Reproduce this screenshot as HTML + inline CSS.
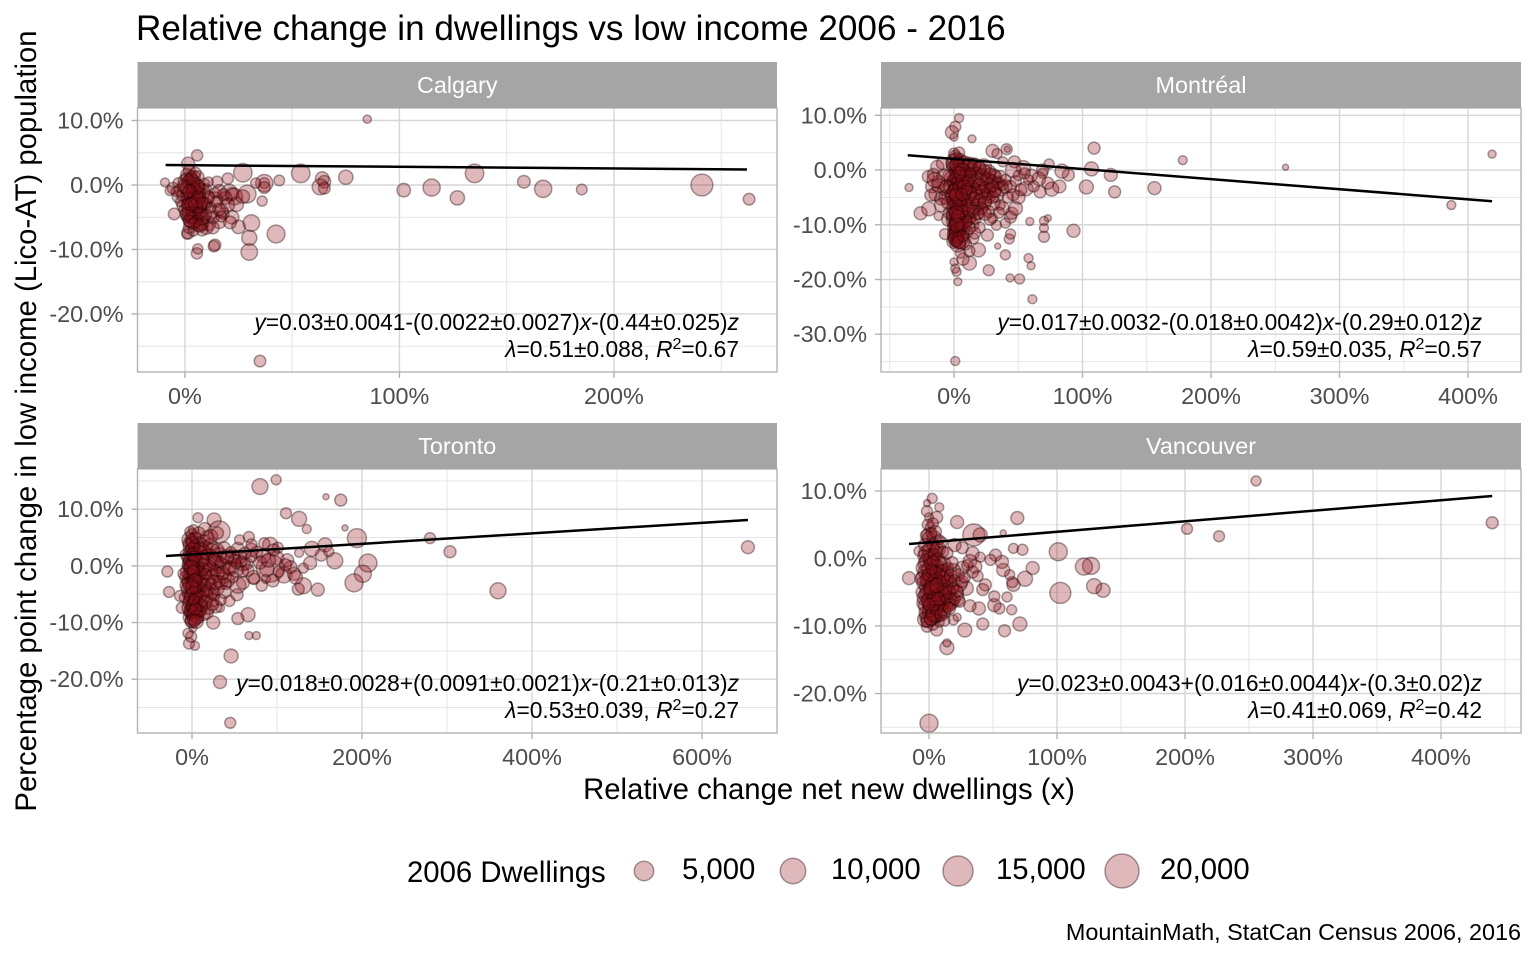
<!DOCTYPE html>
<html lang="en">
<head>
<meta charset="utf-8">
<title>Relative change in dwellings vs low income 2006 - 2016</title>
<style>
html,body{margin:0;padding:0;background:#fff;}
svg{display:block;font-family:"Liberation Sans",Arial,sans-serif;}
</style>
</head>
<body>
<svg id="chart" width="1536" height="960" viewBox="0 0 1536 960" xmlns="http://www.w3.org/2000/svg">
  <rect width="1536" height="960" fill="#fff"/>
  <text x="136" y="40" font-size="35.1" fill="#000">Relative change in dwellings vs low income 2006 - 2016</text>
  <g id="panels"></g>
  <text transform="translate(36,421) rotate(-90)" text-anchor="middle" font-size="29.3" fill="#000">Percentage point change in low income (Lico-AT) population</text>
  <text x="829" y="799" text-anchor="middle" font-size="29.3" fill="#000">Relative change net new dwellings (x)</text>
  <g id="legend">
    <text x="407" y="882" font-size="29.3" fill="#000">2006 Dwellings</text>
  </g>
  <text x="1521" y="940" text-anchor="end" font-size="23.4" fill="#000">MountainMath, StatCan Census 2006, 2016</text>

  <g font-size="22.75" fill="#000" text-anchor="end">
    <text x="739" y="330"><tspan font-style="italic">y</tspan>=0.03±0.0041-(0.0022±0.0027)<tspan font-style="italic">x</tspan>-(0.44±0.025)<tspan font-style="italic">z</tspan></text>
    <text x="739" y="357"><tspan font-style="italic">λ</tspan>=0.51±0.088, <tspan font-style="italic">R</tspan><tspan font-size="16" dy="-8">2</tspan><tspan dy="8">=0.67</tspan></text>
  </g>
  <g font-size="22.75" fill="#000" text-anchor="end">
    <text x="1482" y="330"><tspan font-style="italic">y</tspan>=0.017±0.0032-(0.018±0.0042)<tspan font-style="italic">x</tspan>-(0.29±0.012)<tspan font-style="italic">z</tspan></text>
    <text x="1482" y="357"><tspan font-style="italic">λ</tspan>=0.59±0.035, <tspan font-style="italic">R</tspan><tspan font-size="16" dy="-8">2</tspan><tspan dy="8">=0.57</tspan></text>
  </g>
  <g font-size="22.75" fill="#000" text-anchor="end">
    <text x="739" y="691"><tspan font-style="italic">y</tspan>=0.018±0.0028+(0.0091±0.0021)<tspan font-style="italic">x</tspan>-(0.21±0.013)<tspan font-style="italic">z</tspan></text>
    <text x="739" y="718"><tspan font-style="italic">λ</tspan>=0.53±0.039, <tspan font-style="italic">R</tspan><tspan font-size="16" dy="-8">2</tspan><tspan dy="8">=0.27</tspan></text>
  </g>
  <g font-size="22.75" fill="#000" text-anchor="end">
    <text x="1482" y="691"><tspan font-style="italic">y</tspan>=0.023±0.0043+(0.016±0.0044)<tspan font-style="italic">x</tspan>-(0.3±0.02)<tspan font-style="italic">z</tspan></text>
    <text x="1482" y="718"><tspan font-style="italic">λ</tspan>=0.41±0.069, <tspan font-style="italic">R</tspan><tspan font-size="16" dy="-8">2</tspan><tspan dy="8">=0.42</tspan></text>
  </g>
</svg>
<script>
var calgaryX = [
85,35,263,241,185,167,158,135,127,115,
102,75,64,65,63,65,54,44,37,37,
37,33,27,29,36,42.5,31,30,30,25,
14,13.5,5.6,6,1.5,1,-5,-9.3,-5.5,-7,
5.7,1.5,15,20,20.7,22,23,22,16,18,
2,4,6,3,5,7,1,8,10,4,
2,6,3,9,5,12,7,1,11,4,
14,17,19,24,27,13,16,21,10,-3,
-3,-2,-4,-1,0,1,2,3,-2,-1,
0,1,2,3,4,5,6,7,8,9,
0,1,2,3,4,5,6,7,8,9,
10,11,12,13,14,15,16,17,18,20,
2,4,6,8,1,3,5,7,9,11,
1,2,3,4,5,6,7,8,3,5,
2,4,6,1,3,5,7,2,4,6,
3,5,1,2,4,6,8,10,3,7];
var calgaryY = [
10.2,-27.3,-2.2,0,-0.7,-0.6,0.5,1.8,-2,-0.4,
-0.8,1.2,1,0.5,-0.3,-0.5,1.8,0.7,0.3,0.3,
-0.4,0.3,1.9,-1.4,-2.5,-7.6,-5.9,-8.2,-10.4,-6.5,
-9.3,-9.5,-10.6,-9.9,-7.4,-7.6,-4.5,0.4,-0.5,-0.9,
4.6,3.3,0.5,1,-1.2,-1.4,-1.8,-5,-5.7,-4.4,
0.4,-0.6,-2,-1.6,-3.8,-3,-4.6,-1,-2,-5,
-3.4,-0.2,-5.4,-3,-1.2,-4.4,-5.8,1,-6,1.2,
-2.2,-4,-2,-3,-1.8,-5,-1,-5.8,-6.6,-1.8,
0.3,-0.8,-1,-1.6,0.6,1.6,2.2,1.4,-2.6,-3.2,
-0.2,-1.2,-2.4,0.1,-3.3,-0.9,1.2,-2,-4.2,0.2,
-3.8,-5,-4.4,-5.8,-1.8,-4.9,-5.4,-0.5,-6.1,-2.9,
-0.6,-1.9,-3.5,-6.6,-1.2,-2.6,-3.8,-4.9,-1.5,-3.1,
-6.6,-7.1,-6.2,-7,-0.4,-2.2,0.4,-3.4,-5.1,0.5,
-2,-3,-1,-0.3,-2.8,-3.6,-1.4,-5.2,-4.3,-5.7,
0.9,0.7,-0.2,-3,-5.1,-3.2,-4.4,-1,-2.6,-1.7,
1,1.9,-4.4,-5.6,-6,-2.4,-2.8,-4.6,-3,-6.4];
var calgaryD = [
3000,6000,6000,21000,5000,13000,7000,15000,9000,13000,
8000,9000,8000,7000,11000,6000,15000,5000,5000,13000,
6000,4500,15000,14000,4500,14000,12000,10000,12000,8000,
6000,5500,5500,4500,7000,4500,6000,3500,6000,4000,
5500,7500,5500,5500,12000,7500,12000,8000,8000,5500,
9000,11000,8000,10000,12000,9000,8000,10000,11000,9000,
10000,8000,11000,9000,12000,8000,10000,7000,9000,8000,
9000,8000,7000,9000,8000,7000,8000,7000,8000,7000,
5000,7000,4500,6000,8000,7000,6000,5000,4500,6000,
9000,5000,7000,6000,8000,5000,7000,6000,4500,5000,
6000,5000,8000,7000,6000,9000,5000,4500,7000,6000,
4500,6000,5000,7000,4500,6000,7000,5000,6000,8000,
6000,5000,7000,6000,8000,5000,4500,7000,6000,4000,
6000,7000,5000,6000,8000,5000,6000,7000,5000,6000,
5000,6000,7000,5000,6000,8000,5000,7000,6000,5000,
6000,5000,7000,6000,5000,8000,6000,5000,7000,6000];
var calgaryLineX = [-9, 262];
var calgaryLineY = [3.1, 2.4];
var calgaryXTicks = [0, 100, 200];
var calgaryYTicks = [10, 0, -10, -20];
var calgaryXMinor = [50, 150, 250];
var calgaryYMinor = [5, -5, -15, -25];

var montrealX = [
418.7,387,258,178,156,109,122,125,107,103,
93,82,76,67,73,74,89,84,69,69,
73,70,70,70,59,61,58,60,51,43.6,
40,34,27,43,44,26,44,45,40,33,
30,-35,-26,-19.6,-12,-7,1,4,1,-1.6,
0,14,30,33.5,41,41.5,47,38,3,2,
1,0,12,7,19,12,5,9,15,10,
-20,-17,-14,-10,-16,-12,-8,-18,-13,-9,
50,56,60,66,54,46,48,38,-4,-3,
15,19,23,27,31,-8,-12,-15,-6,-10,
0,2,4,6,-2,1,3,5,7,0,
2,4,6,8,1,3,5,0,2,4,
1,3,5,2,4,0,3,6,1,2,
10,13,16,19,22,25,28,31,34,37,
9,12,15,18,21,24,27,30,33,40,
9,12,15,18,21,8,11,14,9,12,
0,1,2,3,4,-1,0,1,2,3,
4,5,6,-2,-1,0,1,2,3,4,
5,6,7,-1,0,1,2,3,4,5,
6,-1,0,1,2,3,4,0,1,2,
3,4,5,6,0,1,2,3,4,7,
8,10,12,14,16,18,20,22,24,26,
28,30,32,34,36,38,40,8,10,12,
14,16,18,20,22,24,26,28,30,32,
8,10,12,14,16,18,20,22,24,27,
7,9,11,13,15,17,19,8,10,12,
44,48,50,52,55,58,62,46,42,36,
35,28,24,20,16,30,-4,-6,-3,-5,
2,3,1,2,0,4,2,1,3,2,
5,7,9,6,8,10,4,11,13,6];
var montrealY = [
2.9,-6.4,0.5,1.8,-3.3,4,-0.9,-4,0.2,-3.1,
-11.1,-3,-3.5,-4,-2.4,1.1,-0.9,-0.2,0,-0.6,
-8.8,-9.3,-10.6,-12.2,-9.4,-23.6,-16.1,-17.5,-19.9,-19.7,
-15.5,-13.9,-18.3,-12.6,-11.7,-11.9,-8.6,-7.9,-9.7,-10.1,
-8.8,-3.2,-7.9,-7.1,-8.4,-11.7,-34.9,9.5,7.9,6.9,
6,5.7,3.5,3,3.8,3.8,1.5,1.5,-20.4,-18.6,
-18,-16.8,-17,-16.3,-14.6,-14.8,-15.2,-13.5,-12.5,-11.3,
-1.2,-3,-4.4,-5.2,-0.8,-2.2,-3.6,-4.6,0.6,1.2,
-5,-3.4,-1,-1.6,0.4,0,-7,-7,-9,-7.8,
0.8,0.2,0.6,-0.4,-1.2,-1.2,-2.8,-1.8,-5,-6.4,
1.5,0.5,-0.5,1.2,-3,-1.8,-3.4,-2.2,-4.2,-4.5,
-5.6,-6.6,-5.2,-6.2,-7.4,-8,-9.4,-9.2,-10.2,-10,
-11.6,-11,-11.8,-12.4,-12.6,-13,-13.6,-13,-6.8,-3,
-0.8,-2.2,-1,-3,-1.6,-2.6,-2,-3.6,-2.4,-3.4,
-3.4,-4.6,-3.6,-5,-4,-5.4,-4.8,-6,-4.6,-3,
-6.4,-7.6,-6.6,-7.8,-7,-9.4,-8.8,-10,-1,1,
3,2.5,2,1.5,3.2,1,0.5,0,-0.5,-1,
1,2,0.2,-1.5,-2,-2.5,-3,-3.5,-4,-1.8,
-4.5,-3,-1.2,-5,-5.5,-6,-6.5,-7,-5.6,-7.6,
-6,-8,-8.5,-9,-9.5,-9.5,-8.6,-10.5,-11,-11.5,
-10.6,-11.4,-9.8,-10.2,-12,-12.6,-13,-12.4,-13.2,-12,
1.5,0.6,1.2,0.2,1,-0.4,0.4,-1,0,-1.6,
-0.6,-2,-1,-2.4,-1.2,-2.8,-1.8,-1.5,-2.5,-1.2,
-3,-2,-3.6,-2.6,-4,-3.2,-4.4,-3.4,-5,-4,
-4.5,-5.5,-4.2,-6,-5,-6.5,-5.6,-7,-6,-7.6,
-7.5,-8.5,-7.2,-8.8,-7.5,-9,-8,-10,-9.5,-10.6,
-3,-2,-1,-3.6,-0.6,-1.8,-3,-4.5,-5,-6.4,
-7.8,-9,-8,-10.5,-11.5,-3,-1,-3,-4.5,-6,
1,-2,-1.5,-4.8,-3.8,-3,-7.8,-4.5,-8.4,-10,
-1,0,-1,-2,-3,-3.5,-0.5,-2,-0.5,-4.5];
var montrealD = [
2800,3500,1600,3500,7400,6300,7400,6300,8600,8600,
7400,7400,8600,6300,6300,4400,6300,8600,6300,4400,
2150,3560,3560,5300,2800,3560,3560,2800,4400,2800,
4400,1600,5300,4400,4400,6300,6300,6300,4400,4400,
4400,2800,7400,8600,3560,5300,3560,3560,5300,7400,
2800,2800,7400,4400,5300,1600,6300,4400,2800,3560,
3560,2800,8600,6300,8600,5300,4400,6300,5300,6300,
6300,7400,8600,7400,6300,7400,5300,6300,7400,6300,
8000,9000,7000,8000,9000,10000,8000,7000,9000,8000,
9000,10000,11000,9000,10000,9000,8000,10000,9000,8000,
11000,10000,12000,9000,11000,10000,13000,9000,11000,12000,
11000,12000,10000,13000,9000,12000,14000,10000,12000,11000,
10000,12000,9000,11000,13000,9000,10000,11000,12000,10000,
10000,9000,11000,10000,9000,11000,9000,10000,8000,9000,
11000,10000,9000,11000,10000,9000,8000,10000,9000,8000,
10000,9000,11000,9000,8000,10000,9000,8000,11000,9000,
5300,6300,7400,6300,5300,7400,8600,6300,7400,8600,
6300,5300,7400,8600,6300,7400,5300,8600,6300,7400,
7400,5300,6300,8600,7400,6300,9900,7400,6300,8600,
5300,7400,9900,6300,8600,9900,6300,7400,6300,8600,
7400,5300,6300,6300,7400,8600,6300,5300,7400,6300,
6300,7400,5300,6300,7400,5300,6300,7400,5300,6300,
5300,6300,4400,5300,6300,4400,5300,7400,6300,7400,
6300,7400,5300,6300,7400,5300,6300,5300,6300,5300,
7400,5300,8600,6300,5300,7400,6300,5300,7400,6300,
6300,5300,7400,5300,6300,4400,5300,7400,5300,6300,
6300,5300,4400,6300,5300,4400,5300,6300,5300,4400,
5300,6300,7400,5300,6300,5300,6300,7400,5300,6300,
7400,6300,5300,8600,7400,6300,8600,6300,7400,8600,
6300,7400,5300,6300,7400,5300,6300,5300,4400,6300];
var montrealLineX = [-36, 418.7];
var montrealLineY = [2.7, -5.7];
var montrealXTicks = [0, 100, 200, 300, 400];
var montrealYTicks = [10, 0, -10, -20, -30];
var montrealXMinor = [-50, 50, 150, 250, 350];
var montrealYMinor = [5, -5, -15, -25, -35];

var torontoX = [
654,360,303.5,280,194,207,201,190.6,175,157.6,
180,168,156.5,152,161,148,131,125,139,131,
141,126,126,135,110.6,80,99,7,26,32,
67,92,101,92,108,112,120,82,87,73,
66,54,75.7,67,46,33,45,25,3.5,-3.5,
-1,-4.7,1,-29,-27,-14,-12,33,53,54,
64,72,88,100,116,122,60,84,95,70,
-3,-1,1,3,5,-2,0,2,4,6,
-4,-2,0,2,4,6,-3,-1,1,3,
5,-2,0,2,4,6,8,-1,1,3,
8,12,16,20,24,28,32,36,40,44,
48,52,56,60,10,14,18,22,26,30,
10,14,18,22,26,34,38,42,8,12,
16,20,24,28,9,13,17,14,18,-7,
-2,0,2,-4,-1,1,3,-3,0,2,
4,-5,-2,1,3,5,-4,-1,2,4,
6,-3,0,2,5,7,-5,-2,1,3,
6,8,-4,-1,2,4,7,-3,0,3,
5,8,-2,1,4,6,-1,2,5,10,
10,14,18,22,26,30,34,38,42,46,
50,54,58,62,12,16,20,24,28,32,
36,40,44,48,52,14,18,22,26,30,
10,12,16,20,24,34,38,44,60,66,
70,76,80,85,90,96,102,110,56,70,
8,15,22,30,4,-8,-10,-7,-9,12,
0,1,2,3,-1,0,1,2,3,4];
var torontoY = [
3.3,-4.4,2.5,4.9,4.9,0.5,-1.4,-3,11.6,12.2,
6.7,0.9,3.7,1.9,2.5,-4.2,-3.5,-4.1,0.5,-0.4,
3,2.3,8.3,6.5,9.3,14,15.2,8.5,8.1,6,
5.1,3.7,3.2,-0.4,-1.6,1,-1.4,-3.5,-2.3,-2.3,
-8.6,-9.3,-12.3,-12.3,-15.9,-20.5,-27.7,-10,-14.1,-13.7,
-12.5,-11.9,-11,-1,-4.6,-5.3,-7.4,-7.4,-5.1,-3.4,
0.4,-2,-0.6,1.4,-0.2,-2,-3,1.8,-2.6,2.8,
4.6,3.4,2.8,4.4,3.2,0.4,1,-0.4,-0.8,0,
-1,-2.6,-1.2,-3,-2,-4.4,-4.2,-6,-5.4,-7.2,
-6,-7.4,-8.2,-7.6,-9,-7.8,-4.6,-9,-9.6,-8.4,
3.8,2.6,3.2,1.6,2.6,0.6,2,0,1.6,-0.4,
1.6,-0.6,1.6,0.4,1,0,-1,-0.6,0.8,-1.4,
-2.2,-1.8,-2.8,-4.4,-3,-3,-1.8,-2.6,-3.2,-4.6,
-5.4,-5,-6,-7.2,-7.4,-8.4,-8.2,2.4,5,-2,
6,5.5,6.4,4,4.5,4,3.6,2.5,3,2.4,
5,1.5,1,1.5,0.8,2,0,-0.5,0,-1,
1,-1.5,-2,-1.8,-2.4,-0.5,-3,-3.5,-3.2,-3.8,
-3.5,-2,-5,-5.2,-4.8,-5.6,-5,-6.5,-7,-6.6,
-7,-6.4,-8,-8.4,-8,-9,-9.8,-9.5,-9.8,-8,
3,4.4,2,3.6,1.2,2.8,0.6,3.2,1.4,2.4,
1,3,0.8,2.2,-0.6,-1.4,0,-2,-0.8,-2.8,
-1.2,-3.2,-0.4,-2,0.4,-3.4,-4.4,-3.2,-5,-4,
-5.4,-7,-6.4,-7.6,-6.8,-6,-4.6,-6.2,-1,-0.8,
1.6,2.4,0.6,4,1,2.8,-1,0.2,4.6,3.8,
5.8,6.5,5.2,5.8,-4,2,-1.4,-3.4,-5.6,1,
2,0.6,-0.8,1.6,-0.2,-3.8,-1,-6,-2.6,-7.6];
var torontoD = [
7400,11250,6300,5300,15900,14250,12700,14250,6300,1600,
1600,11250,8600,6300,4400,7400,11250,6300,7400,4400,
9900,3560,9900,3560,5300,11250,4400,4400,8600,21300,
5300,9900,5300,34500,11250,7400,7400,5300,3560,5300,
8600,6300,2800,2800,8600,7400,5300,7400,3560,5300,
5300,4400,2800,5300,5300,5300,5300,3560,6300,11250,
7000,8000,9000,8000,7000,8000,7000,9000,7000,8000,
10000,11000,9000,12000,10000,11000,13000,10000,12000,9000,
11000,12000,10000,13000,11000,9000,12000,10000,13000,11000,
9000,12000,10000,11000,12000,9000,8000,11000,10000,12000,
10000,11000,9000,12000,10000,11000,9000,10000,9000,10000,
9000,10000,8000,9000,12000,10000,11000,9000,10000,8000,
11000,10000,9000,11000,9000,8000,9000,8000,11000,10000,
9000,10000,8000,7000,11000,9000,8000,9000,8000,7000,
5300,6300,4400,5300,6300,7400,5300,6300,7400,5300,
5300,6300,7400,6300,5300,7400,6300,8600,6300,7400,
5300,7400,8600,6300,7400,5300,6300,8600,7400,6300,
7400,5300,6300,7400,8600,6300,5300,7400,6300,8600,
6300,5300,7400,6300,8600,7400,6300,7400,8600,5300,
7400,6300,5300,8600,6300,7400,5300,6300,7400,5300,
6300,7400,5300,6300,7400,5300,6300,8600,5300,6300,
7400,5300,6300,5300,4400,7400,6300,5300,6300,7400,
6300,5300,7400,5300,6300,5300,7400,5300,5300,6300,
5300,6300,7400,5300,8600,6300,5300,6300,4400,5300,
6300,7400,8600,6300,5300,4400,5300,6300,4400,7400,
6300,7400,5300,6300,8600,7400,6300,5300,7400,6300];
var torontoLineX = [-30.6, 654];
var torontoLineY = [1.75, 8.1];
var torontoXTicks = [0, 200, 400, 600];
var torontoYTicks = [10, 0, -10, -20];
var torontoXMinor = [100, 300, 500];
var torontoYMinor = [15, 5, -5, -15, -25];

var vancouverX = [
440,255.5,226.6,201.6,136,129,126.6,121,101,102.6,
81,75,71,59,42,28,14,14,69,58,
66,73,35,40,22,2.5,-1.5,8,-1.6,6,
0,-15.6,-7.8,0,64.6,61,55,51,51,39,
32,44,66,65,63,58,57,52,48,40,
34,19,22,6,-1.6,3,8,-3,1,5,
6,8,10,13,18,22,26,29,32,36,
0,2,4,-2,1,3,5,7,-3,0,
2,4,6,8,10,12,-4,-1,1,3,
5,7,9,11,13,15,17,19,21,24,
-3,0,2,4,6,8,10,12,14,16,
-2,1,3,5,7,9,-3,0,2,4,
-1,1,3,-2,0,2,5,8,-3,0,
3,6,10,-4,-2,1,4,7,11,14,
-5,-3,0,3,6,9,12,15,18,-6,
-4,-1,2,5,8,11,14,17,20,23,
-5,-2,1,4,7,10,13,16,19,22,
-4,-1,2,5,8,11,14,17,20,26,
-3,0,3,6,9,12,15,-2,1,4,
20,26,30,34,38,42,28,24,16,12,
0,1,2,3,4,5,6,7,0,2];
var vancouverY = [
5.3,11.5,3.3,4.4,-4.7,-4.1,-1.1,-1.2,1,-5.1,
-1.4,-3,-9.7,-10.7,-9.7,-10.6,-13.2,-12.5,6,3.8,
1.5,1.3,3.5,3.5,5.4,8.9,8.2,7.6,7,6.1,
6.1,-2.9,1.1,-24.4,-7.6,-5.7,-7.4,-6.9,-5.6,-7.4,
-7,-3.9,-3.9,-3.5,-2.4,-1.7,-0.5,0.5,-0.2,0.2,
0.8,-9.1,-8.7,-10.6,-10.1,-9.8,-9.4,-8.6,-8.4,-8.6,
-8.4,-6.6,-8,-6.8,-6.4,-6,-1.4,-4.4,-0.4,-1.2,
3.4,1.6,3,0.8,0.2,-0.6,0.8,1.4,-0.8,-2.8,
-2.8,-1.4,-2.6,-0.8,-2.2,-2.6,-2.8,-4.2,-3.4,-4.4,
-4,-2.6,-4.4,-3.8,-2,-3.6,-4.2,-1.8,-5.2,-3.8,
-5.8,-5,-5.8,-4.8,-6,-5.6,-6.2,-5.2,-5,-6,
-7,-6.6,-7.6,-7,-6.6,-7.8,-9,-9,-8.8,-8.4,
5,4.6,5.2,3.4,3,3.8,4,2.8,2,1.2,
2,1.4,2.4,0.4,-0.4,0,0.6,-0.2,1,0.8,
-1.4,-2,-1.6,-2.2,-1.2,-1.8,-0.8,-1.4,-0.6,-3,
-3.6,-3.2,-3.8,-3,-3.6,-2.8,-3.4,-2.6,-3.2,-2.4,
-5,-5.4,-4.8,-5.6,-4.8,-5.2,-4.6,-5,-4.4,-4.8,
-6.6,-6.2,-7,-6.4,-7.2,-6.6,-6,-6.8,-6,-3.4,
-8,-7.8,-8.2,-7.6,-8.4,-7.8,-7.2,-9.4,-9,-7,
2,1.6,-1,-2,-2.6,-4.6,-2.8,-6.4,-7.4,-9.2,
-2.4,-0.8,-4.4,-0.4,-6,-2,-4,-6,-6.8,-1.6];
var vancouverD = [
6300,4400,5300,5300,8600,9900,12700,12700,14250,19400,
7400,9900,8600,6300,6300,8600,8600,2800,7400,1600,
4400,5300,21300,8600,7400,4400,2150,3560,5300,6300,
3560,7400,4400,14250,4400,4400,5300,7400,5300,7400,
6300,6300,7400,5300,4400,7400,7400,6300,5300,4400,
7400,4400,2800,6300,5300,5300,4400,5300,4400,6300,
10000,9000,11000,9000,8000,9000,8000,9000,8000,8000,
10000,11000,9000,10000,12000,11000,9000,10000,9000,11000,
12000,11000,13000,10000,12000,11000,10000,12000,11000,13000,
12000,11000,13000,10000,11000,12000,10000,9000,10000,9000,
11000,13000,12000,11000,13000,10000,12000,11000,9000,10000,
11000,12000,10000,13000,11000,9000,10000,11000,9000,10000,
5300,4400,5300,6300,7400,5300,6300,4400,7400,8600,
6300,7400,5300,6300,8600,7400,6300,8600,5300,6300,
7400,8600,9900,7400,8600,6300,7400,5300,6300,7400,
8600,9900,7400,8600,9900,7400,6300,7400,5300,6300,
7400,9900,8600,7400,9900,8600,6300,7400,5300,6300,
8600,7400,9900,6300,7400,8600,5300,6300,5300,6300,
6300,7400,8600,5300,6300,7400,5300,5300,6300,4400,
7400,6300,5300,6300,5300,6300,5300,5300,6300,5300,
7400,6300,8600,5300,7400,6300,8600,7400,6300,5300];
var vancouverLineX = [-15.6, 440];
var vancouverLineY = [2.15, 9.26];
var vancouverXTicks = [0, 100, 200, 300, 400];
var vancouverYTicks = [10, 0, -10, -20];
var vancouverXMinor = [50, 150, 250, 350, 450];
var vancouverYMinor = [5, -5, -15, -25];

var legendValues = [5000, 10000, 15000, 20000];

var NS = 'http://www.w3.org/2000/svg';
var FILL = 'rgba(150,20,30,0.3)';
var STROKE = 'rgba(30,0,0,0.38)';

function sizeScale(d) { return 0.0754 * Math.sqrt(d); }
function legendSizeScale(d) { return 2.5 + 0.1025 * Math.sqrt(d); }
function linear(d0, d1, r0, r1) {
  return function (v) { return r0 + (v - d0) / (d1 - d0) * (r1 - r0); };
}
function make(parent, tag, attrs) {
  var el = document.createElementNS(NS, tag);
  for (var k in attrs) el.setAttribute(k, attrs[k]);
  parent.appendChild(el);
  return el;
}
function pct(v, dec) { return v.toFixed(dec) + '%'; }

function drawPanel(cfg) {
  var root = document.getElementById('panels');
  var g = make(root, 'g', {});
  
  
  var sx = linear(cfg.xDomain[0], cfg.xDomain[1], cfg.left, cfg.right);
  var sy = linear(cfg.yDomain[0], cfg.yDomain[1], cfg.top, cfg.bottom);

  cfg.xMinor.forEach(function (v) {
    var l = make(g, 'line', {x1: sx(v), x2: sx(v), y1: cfg.top, y2: cfg.bottom, stroke: '#e6e6e6', 'stroke-width': 1});
    
    
  });
  cfg.yMinor.forEach(function (v) {
    var l = make(g, 'line', {x1: cfg.left, x2: cfg.right, y1: sy(v), y2: sy(v), stroke: '#e6e6e6', 'stroke-width': 1});
    
    
  });
  cfg.xTicks.forEach(function (v) {
    var l = make(g, 'line', {x1: sx(v), x2: sx(v), y1: cfg.top, y2: cfg.bottom, stroke: '#d6d6d6', 'stroke-width': 1.4});
    
    
    var t = make(g, 'line', {x1: sx(v), x2: sx(v), y1: cfg.bottom, y2: cfg.bottom + 6, stroke: '#b3b3b3', 'stroke-width': 1.4});
    
    
    var lab = make(g, 'text', {x: sx(v), y: cfg.bottom + 32, 'text-anchor': 'middle', 'font-size': 23.4, fill: '#4d4d4d'});
    
    
    lab.textContent = pct(v, 0);
  });
  cfg.yTicks.forEach(function (v) {
    var l = make(g, 'line', {x1: cfg.left, x2: cfg.right, y1: sy(v), y2: sy(v), stroke: '#d6d6d6', 'stroke-width': 1.4});
    
    
    var t = make(g, 'line', {x1: cfg.left - 6, x2: cfg.left, y1: sy(v), y2: sy(v), stroke: '#b3b3b3', 'stroke-width': 1.4});
    
    
    var lab = make(g, 'text', {x: cfg.left - 14, y: sy(v) + 8, 'text-anchor': 'end', 'font-size': 23.4, fill: '#4d4d4d'});
    
    
    lab.textContent = pct(v, 1);
  });

  for (var i = 0; i < cfg.x.length; i++) {
    var c = make(g, 'circle', {cx: sx(cfg.x[i]), cy: sy(cfg.y[i]), r: sizeScale(cfg.d[i]), fill: FILL, stroke: STROKE, 'stroke-width': 1.5});
    
    
  }

  var line = make(g, 'line', {
    x1: sx(cfg.lineX[0]), y1: sy(cfg.lineY[0]),
    x2: sx(cfg.lineX[1]), y2: sy(cfg.lineY[1]),
    stroke: '#000', 'stroke-width': 2.5
  });
  
  

  var border = make(g, 'rect', {x: cfg.left, y: cfg.top, width: cfg.right - cfg.left, height: cfg.bottom - cfg.top, fill: 'none', stroke: '#b3b3b3', 'stroke-width': 1.4});
  
  

  var strip = make(g, 'rect', {x: cfg.left, y: cfg.top - 46, width: cfg.right - cfg.left, height: 46, fill: '#a5a5a5'});
  
  
  var st = make(g, 'text', {x: (cfg.left + cfg.right) / 2, y: cfg.top - 15, 'text-anchor': 'middle', 'font-size': 23.4, fill: '#fff'});
  
  
  st.textContent = cfg.title;
}

drawPanel({key: 'calgary', title: 'Calgary', left: 137.5, right: 777, top: 108, bottom: 372,
  xDomain: [-22.1, 276], yDomain: [11.94, -29],
  x: calgaryX, y: calgaryY, d: calgaryD, lineX: calgaryLineX, lineY: calgaryLineY,
  xTicks: calgaryXTicks, yTicks: calgaryYTicks, xMinor: calgaryXMinor, yMinor: calgaryYMinor});
drawPanel({key: 'montreal', title: 'Montréal', left: 881, right: 1521, top: 108, bottom: 372,
  xDomain: [-56.8, 441.2], yDomain: [11.33, -36.9],
  x: montrealX, y: montrealY, d: montrealD, lineX: montrealLineX, lineY: montrealLineY,
  xTicks: montrealXTicks, yTicks: montrealYTicks, xMinor: montrealXMinor, yMinor: montrealYMinor});
drawPanel({key: 'toronto', title: 'Toronto', left: 137.5, right: 777, top: 469, bottom: 733,
  xDomain: [-64.1, 688.2], yDomain: [17.1, -29.5],
  x: torontoX, y: torontoY, d: torontoD, lineX: torontoLineX, lineY: torontoLineY,
  xTicks: torontoXTicks, yTicks: torontoYTicks, xMinor: torontoXMinor, yMinor: torontoYMinor});
drawPanel({key: 'vancouver', title: 'Vancouver', left: 881, right: 1521, top: 469, bottom: 733,
  xDomain: [-37.5, 462.5], yDomain: [13.26, -25.85],
  x: vancouverX, y: vancouverY, d: vancouverD, lineX: vancouverLineX, lineY: vancouverLineY,
  xTicks: vancouverXTicks, yTicks: vancouverYTicks, xMinor: vancouverXMinor, yMinor: vancouverYMinor});

var legendRoot = document.getElementById('legend');
var legendCx = [644, 793, 958, 1122];
var legendTx = [682, 831, 996, 1160];
legendValues.forEach(function (v, i) {
  var k = make(legendRoot, 'circle', {cx: legendCx[i], cy: 871, r: legendSizeScale(v), fill: FILL, stroke: STROKE, 'stroke-width': 1.5});
  
  
  var t = make(legendRoot, 'text', {x: legendTx[i], y: 879, 'font-size': 29.3, fill: '#000'});
  
  
  t.textContent = v.toLocaleString('en-US');
});
</script>
</body>
</html>
